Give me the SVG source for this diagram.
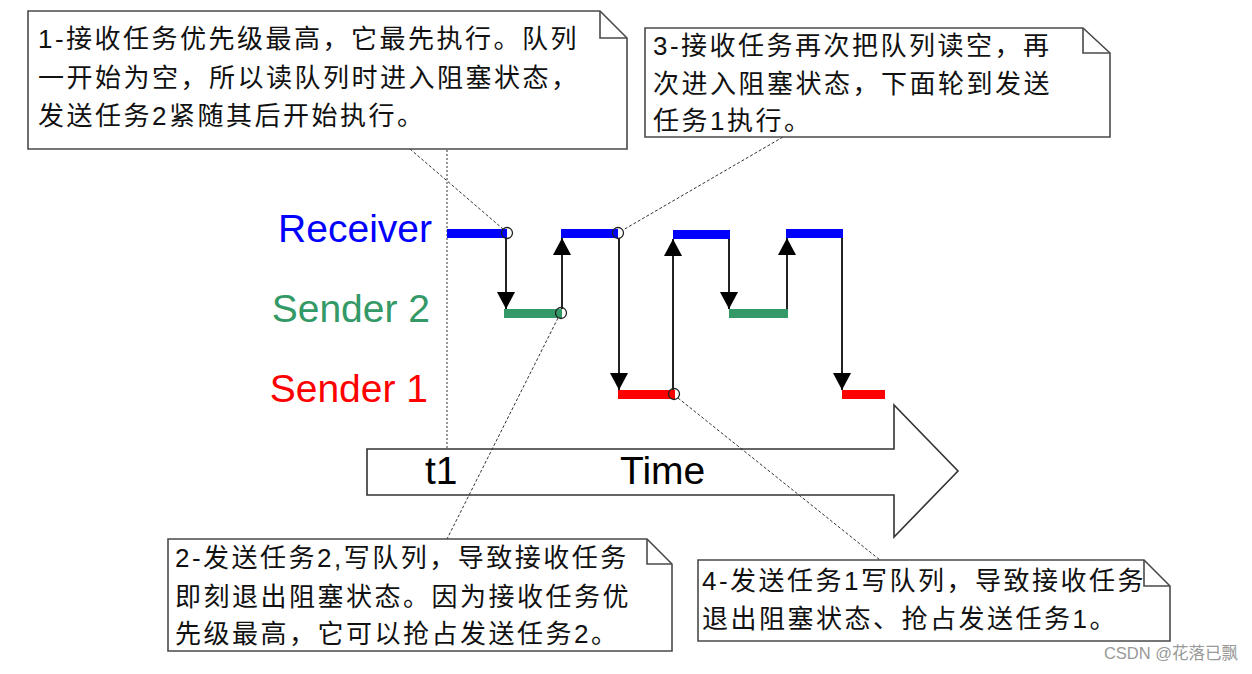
<svg xmlns="http://www.w3.org/2000/svg" width="1252" height="674" viewBox="0 0 1252 674">
<style>
.note{fill:#fff;stroke:#4a4a4a;stroke-width:1.6}
.fold{fill:none;stroke:#4a4a4a;stroke-width:1.6}
.nt{font-family:"Liberation Sans","Noto Sans CJK SC",sans-serif;font-size:26px;letter-spacing:2.5px;fill:#111}
.lbl{font-family:"Liberation Sans",Arial,sans-serif;font-size:39px;text-anchor:end}
.ax{font-family:"Liberation Sans",Arial,sans-serif;font-size:39px;fill:#000}
.arr{stroke:#222;stroke-width:2;fill:none;marker-end:url(#ah)}
.con{stroke:#333;stroke-width:1;stroke-dasharray:3 2;fill:none}
.dot{fill:none;stroke:#222;stroke-width:1.3}
.blue{fill:#0000ff}.green{fill:#339966}.red{fill:#ff0000}
</style>
<defs>
<marker id="ah" markerUnits="userSpaceOnUse" viewBox="0 0 17 18" refX="17" refY="9" markerWidth="17" markerHeight="18" orient="auto">
<path d="M0,0 L17,9 L0,18 Z" fill="#000"/>
</marker>
</defs>
<rect width="1252" height="674" fill="#fff"/>

<g id="time-axis">
<line x1="447" y1="150" x2="447" y2="449" stroke="#777" stroke-width="1.5" stroke-dasharray="2 2"/>
<polygon points="367,449 894,449 894,405 958,471 894,537 894,495 367,495" fill="#fff" stroke="#333" stroke-width="1.6"/>
<text class="ax" x="425" y="484">t1</text>
<text class="ax" x="620" y="484">Time</text>
</g>

<g id="labels">
<text class="lbl" x="432" y="242" fill="#0000ff">Receiver</text>
<text class="lbl" x="430" y="322" fill="#339966">Sender 2</text>
<text class="lbl" x="428" y="402" fill="#ff0000">Sender 1</text>
</g>

<g id="bars">
<rect class="blue" x="447" y="229" width="60" height="9"/>
<rect class="blue" x="561" y="229" width="57" height="9"/>
<rect class="blue" x="673" y="230" width="57" height="9"/>
<rect class="blue" x="786" y="229" width="57" height="9"/>
<rect class="green" x="504" y="309" width="58" height="9"/>
<rect class="green" x="729" y="309" width="59" height="9"/>
<rect class="red" x="618" y="390" width="57" height="9"/>
<rect class="red" x="842" y="390" width="43" height="9"/>
</g>

<g id="connectors">
<line class="arr" x1="506" y1="238" x2="506" y2="309"/>
<line class="arr" x1="562" y1="309" x2="562" y2="238"/>
<line class="arr" x1="619" y1="238" x2="619" y2="390"/>
<line class="arr" x1="673" y1="390" x2="673" y2="239"/>
<line class="arr" x1="729" y1="239" x2="729" y2="309"/>
<line class="arr" x1="787" y1="309" x2="787" y2="238"/>
<line class="arr" x1="842" y1="238" x2="842" y2="390"/>
<circle class="dot" cx="507" cy="233" r="5.5"/>
<circle class="dot" cx="561" cy="313" r="5.5"/>
<circle class="dot" cx="618" cy="233" r="5.5"/>
<circle class="dot" cx="674" cy="394" r="5.5"/>
<line class="con" x1="410" y1="149" x2="503" y2="229"/>
<line class="con" x1="783" y1="137" x2="623" y2="230"/>
<line class="con" x1="558" y1="318" x2="447" y2="539"/>
<line class="con" x1="678" y1="398" x2="880" y2="560"/>
</g>

<g id="note1">
<path class="note" d="M28,11 H600 L627,38 V149 H28 Z"/>
<path class="fold" d="M600,11 V38 H627"/>
<text class="nt" x="38" y="48">1-接收任务优先级最高，它最先执行。队列</text>
<text class="nt" x="38" y="87">一开始为空，所以读队列时进入阻塞状态，</text>
<text class="nt" x="38" y="125">发送任务2紧随其后开始执行。</text>
</g>

<g id="note3">
<path class="note" d="M645,28 H1083 L1110,53 V137 H645 Z"/>
<path class="fold" d="M1083,28 V53 H1110"/>
<text class="nt" x="653" y="55">3-接收任务再次把队列读空，再</text>
<text class="nt" x="653" y="93">次进入阻塞状态，下面轮到发送</text>
<text class="nt" x="653" y="130">任务1执行。</text>
</g>

<g id="note2">
<path class="note" d="M168,539 H647 L672,564 V651 H168 Z"/>
<path class="fold" d="M647,539 V564 H672"/>
<text class="nt" x="175" y="567">2-发送任务2,写队列，导致接收任务</text>
<text class="nt" x="175" y="606">即刻退出阻塞状态。因为接收任务优</text>
<text class="nt" x="175" y="643">先级最高，它可以抢占发送任务2。</text>
</g>

<g id="note4">
<path class="note" d="M698,560 H1144 L1170,586 V641 H698 Z"/>
<path class="fold" d="M1144,560 V586 H1170"/>
<text class="nt" x="702" y="590">4-发送任务1写队列，导致接收任务</text>
<text class="nt" x="702" y="628">退出阻塞状态、抢占发送任务1。</text>
</g>

<text x="1238" y="659" text-anchor="end" font-family="Liberation Sans,Noto Sans CJK SC,sans-serif" font-size="16.5" fill="#999">CSDN @花落已飘</text>
</svg>
